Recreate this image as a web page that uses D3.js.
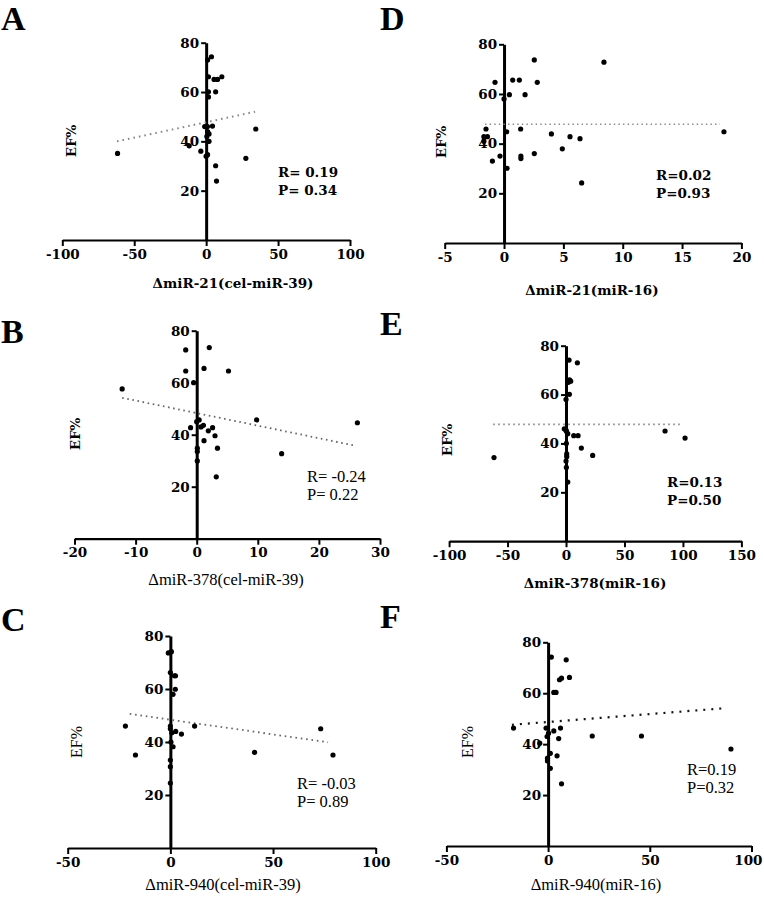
<!DOCTYPE html>
<html>
<head>
<meta charset="utf-8">
<script src="https://cdn.jsdelivr.net/npm/d3@7/dist/d3.min.js"></script>
<style>
  html, body { margin: 0; padding: 0; background: #fff; }
  svg { display: block; }
  text { fill: #000; }
</style>
</head>
<body>
<svg id="chart" width="764" height="899"></svg>
<script>
// ---------------- DATA ----------------
// Panel A: ΔmiR-21 (cel-miR-39) vs EF%
const aX = [3.7, 1, 1.6, 5.5, 7.9, 10.9, 1.6, 6.6, 1.6, -61.6, 4.4, -1, 0.9, 1, 2, 0.5, 1.5, 2, -11.8, -3.7, 1, 34.5, 27.6, 6.6, 7.2, 0];
const aY = [74.3, 73, 66.2, 65.1, 65.1, 66.2, 60.1, 60.1, 58, 35.1, 46.2, 46, 46, 44, 43, 42, 40, 40, 38.2, 36, 34.6, 45, 33.1, 30.1, 23.9, 34];
const aFit = { x: [-62, 34], y: [40, 52] };
const aStats = ["R= 0.19", "P= 0.34"];

// Panel D: ΔmiR-21 (miR-16) vs EF%
const dX = [2.55, 8.42, -0.76, 0.73, 1.29, 2.8, 0.45, 1.77, 0, -1.52, -1.7, -1.4, 0.22, 1.4, 3.99, 5.56, 6.4, 4.91, 2.55, -0.34, 1.42, 1.42, -0.98, 0.25, 6.54, 18.53, -1.7];
const dY = [73.7, 72.8, 64.7, 65.6, 65.6, 64.7, 59.7, 59.7, 58, 45.9, 42.8, 42.8, 44.8, 45.9, 43.9, 42.8, 42, 37.9, 36, 35, 35, 34, 33, 30.1, 24.2, 44.8, 41];
const dFit = { x: [-1.6, 18.2], y: [47.8, 47.8] };
const dStats = ["R=0.02", "P=0.93"];

// Panel B: ΔmiR-378 (cel-miR-39) vs EF%
const bX = [-12.2, -1.8, -1.8, -0.5, 2.06, 1.2, 5.2, 9.8, 26.3, 13.9, -1, 0.4, 0, 0.7, 1.1, 1.9, 2.6, 3, 1.2, 3.4, 0.1, 0.1, 0.1, 3.2];
const bY = [57.6, 72.6, 64.5, 60, 73.5, 65.5, 64.5, 45.7, 44.6, 32.7, 42.7, 45.7, 45, 43, 43.6, 41.5, 42.7, 39.6, 37.7, 34.8, 34.8, 33.5, 29.9, 23.8];
const bFit = { x: [-12.2, 25.9], y: [54.2, 35.8] };
const bStats = ["R= -0.24", "P= 0.22"];

// Panel E: ΔmiR-378 (miR-16) vs EF%
const eX = [-61.6, 2.6, 9.7, 2, 3, 4, 2.9, 0, -1.5, 0, 0.3, 1.5, 6.6, 10.3, 0.3, 13.1, 22.8, 0.6, 0.6, 0, 0.3, 1.5, 84.7, 101.8];
const eY = [34.2, 74.1, 73, 65, 66, 65.5, 60.1, 58, 46, 45.5, 45, 44, 43.2, 43.2, 40, 38.1, 35.1, 35.7, 34.6, 32.8, 30.2, 24.2, 45.1, 42.2];
const eFit = { x: [-62.2, 99], y: [47.8, 47.8] };
const eStats = ["R=0.13", "P=0.50"];

// Panel C: ΔmiR-940 (cel-miR-39) vs EF%
const cX = [-21.9, -17, -1, 0.5, 0, 2, 2.5, 2.4, 1.3, 11.8, 5.4, 2.6, 0, 0, 0.7, 1.3, 0.3, 41, 73.2, 79.2, 0, 0, 0];
const cY = [46, 35.1, 73.6, 74.1, 66.2, 65, 65, 59.9, 58, 46, 43, 44, 46, 45, 43.5, 38.2, 40, 36.1, 45, 35.1, 33.2, 30.7, 24.5];
const cFit = { x: [-19.8, 76.8], y: [50.6, 39.9] };
const cStats = ["R= -0.03", "P= 0.89"];

// Panel F: ΔmiR-940 (miR-16) vs EF%
const fX = [-17, 1.6, 8.9, 5.6, 6.6, 10.5, 2.8, 3.9, 6.1, -1, 2.8, 0.2, -0.5, 5.2, 21.7, 45.9, 89.9, -4.1, 1.1, 4.4, -0.3, -0.3, 1.1, 6.6];
const fY = [46.3, 74.2, 73.1, 65.3, 65.9, 66.2, 60.3, 60.3, 46.3, 46.3, 45.2, 44.3, 43, 42.2, 43.2, 43.2, 38.1, 40.4, 36.4, 35.4, 34.5, 33.4, 30.5, 24.4];
const fFit = { x: [-17.8, 86.6], y: [47.6, 54.1] };
const fStats = ["R=0.19", "P=0.32"];

const yTicks = [20, 40, 60, 80];
const xTicksA = [-100, -50, 0, 50, 100];
const xTicksD = [-5, 0, 5, 10, 15, 20];
const xTicksB = [-20, -10, 0, 10, 20, 30];
const xTicksE = [-100, -50, 0, 50, 100, 150];
const xTicksC = [-50, 0, 50, 100];
const xTicksF = [-50, 0, 50, 100];

const panelLetters = ["A", "D", "B", "E", "C", "F"];
const xTitles = ["ΔmiR-21(cel-miR-39)", "ΔmiR-21(miR-16)", "ΔmiR-378(cel-miR-39)", "ΔmiR-378(miR-16)", "ΔmiR-940(cel-miR-39)", "ΔmiR-940(miR-16)"];
const yTitle = "EF%";

// ---------------- LAYOUT ----------------
const BOLD_FONT = "'DejaVu Serif', 'Liberation Serif', serif";
const REG_FONT = "'Liberation Serif', 'Times New Roman', serif";

const panels = [
  { letter: panelLetters[0], xs: aX, ys: aY, fit: aFit, stats: aStats, xTicks: xTicksA, xDom: [-100, 100], title: xTitles[0],
    xr: [62.3, 350], yr: [240, 42.7], letterPos: [1, 30], titlePos: [233, 288], efPos: [76, 141], statPos: [278, 177], bold: true, dash: "1.6,4", fitColor: "#888", fitW: 2 },
  { letter: panelLetters[1], xs: dX, ys: dY, fit: dFit, stats: dStats, xTicks: xTicksD, xDom: [-5, 20], title: xTitles[1],
    xr: [444.7, 741.4], yr: [243, 44.3], letterPos: [380, 30], titlePos: [592, 295], efPos: [446, 142], statPos: [656, 180], bold: true, dash: "1.4,3.2", fitColor: "#888", fitW: 1.6 },
  { letter: panelLetters[2], xs: bX, ys: bY, fit: bFit, stats: bStats, xTicks: xTicksB, xDom: [-20, 30], title: xTitles[2],
    xr: [74.5, 380], yr: [538.7, 330.7], letterPos: [1, 343], titlePos: [226, 585], efPos: [80, 434], statPos: [307, 482], bold: false, efBold: true, dash: "1.6,3.6", fitColor: "#666", fitW: 1.8 },
  { letter: panelLetters[3], xs: eX, ys: eY, fit: eFit, stats: eStats, xTicks: xTicksE, xDom: [-100, 150], title: xTitles[3],
    xr: [449.1, 741.4], yr: [541.2, 345.7], letterPos: [380, 335], titlePos: [595, 588], efPos: [452, 440], statPos: [667, 487], bold: true, dash: "1.4,3.6", fitColor: "#777", fitW: 1.6 },
  { letter: panelLetters[4], xs: cX, ys: cY, fit: cFit, stats: cStats, xTicks: xTicksC, xDom: [-50, 100], title: xTitles[4],
    xr: [67.7, 375.7], yr: [848, 636], letterPos: [1, 631], titlePos: [223, 890], efPos: [82, 742], statPos: [297, 789], bold: false, efBold: false, dash: "1.6,3.8", fitColor: "#666", fitW: 1.8 },
  { letter: panelLetters[5], xs: fX, ys: fY, fit: fFit, stats: fStats, xTicks: xTicksF, xDom: [-50, 100], title: xTitles[5],
    xr: [446.4, 751.5], yr: [846, 642.3], letterPos: [380, 628], titlePos: [596, 890], efPos: [473, 742], statPos: [687, 775], bold: false, efBold: false, dash: "2,6", fitColor: "#111", fitW: 2.2 }
];

const svg = d3.select("#chart");
const W = 764;

panels.forEach(p => {
  const x = d3.scaleLinear().domain(p.xDom).range(p.xr);
  const y = d3.scaleLinear().domain([0, 80]).range(p.yr);
  const g = svg.append("g");

  // panel letter
  g.append("text").attr("x", p.letterPos[0]).attr("y", p.letterPos[1])
    .attr("font-family", REG_FONT)
    .attr("font-size", 34).attr("font-weight", "bold").text(p.letter);

  // x axis
  const xa = g.append("g").attr("transform", `translate(0,${y(0)})`)
    .call(d3.axisBottom(x).tickValues(p.xTicks).tickSize(6).tickSizeOuter(0).tickPadding(3).tickFormat(d3.format("d")));
  xa.select(".domain").attr("stroke", "#000").attr("stroke-width", 2.2);
  xa.selectAll(".tick line").attr("stroke", "#000").attr("stroke-width", 2);
  xa.selectAll(".tick text").attr("font-size", 13.5).attr("font-weight", "bold")
    .attr("font-family", BOLD_FONT).text(d => d < 0 ? "-" + Math.abs(d) : d);
  // keep labels inside the page
  xa.selectAll(".tick text").each(function(d) {
    const w = this.getComputedTextLength();
    const right = x(d) + w / 2;
    if (right > W - 2) d3.select(this).attr("dx", (W - 2 - right).toFixed(1));
  });

  // y axis at x = 0
  const ya = g.append("g").attr("transform", `translate(${x(0)},0)`)
    .call(d3.axisLeft(y).tickValues(yTicks).tickSize(5).tickSizeOuter(0).tickPadding(2));
  ya.select(".domain").attr("stroke", "#000").attr("stroke-width", 3);
  ya.selectAll(".tick line").attr("stroke", "#000").attr("stroke-width", 2);
  ya.selectAll(".tick text").attr("font-size", 13.5).attr("font-weight", "bold")
    .attr("font-family", BOLD_FONT);

  // trend line (dotted)
  g.append("line")
    .attr("x1", x(p.fit.x[0])).attr("y1", y(p.fit.y[0]))
    .attr("x2", x(p.fit.x[1])).attr("y2", y(p.fit.y[1]))
    .attr("stroke", p.fitColor).attr("stroke-width", p.fitW)
    .attr("stroke-dasharray", p.dash).attr("stroke-linecap", "butt");

  // points
  g.selectAll("circle.pt").data(p.xs.map((v, i) => [v, p.ys[i]])).enter()
    .append("circle").attr("class", "pt")
    .attr("cx", d => x(d[0])).attr("cy", d => y(d[1])).attr("r", 2.6).attr("fill", "#000");

  // y title
  const efBold = p.efBold !== undefined ? p.efBold : p.bold;
  g.append("text")
    .attr("transform", `translate(${p.efPos[0]},${p.efPos[1]}) rotate(-90)`)
    .attr("text-anchor", "middle").attr("font-size", efBold ? 13.5 : 16)
    .attr("font-family", efBold ? BOLD_FONT : REG_FONT)
    .attr("font-weight", efBold ? "bold" : "normal").text(yTitle);

  // x title
  g.append("text").attr("x", p.titlePos[0]).attr("y", p.titlePos[1])
    .attr("text-anchor", "middle").attr("font-size", p.bold ? 13.5 : 16.5)
    .attr("font-family", p.bold ? BOLD_FONT : REG_FONT)
    .attr("font-weight", p.bold ? "bold" : "normal").text(p.title);

  // stats
  p.stats.forEach((s, i) => {
    g.append("text").attr("x", p.statPos[0]).attr("y", p.statPos[1] + i * 18)
      .attr("font-family", p.bold ? BOLD_FONT : REG_FONT)
      .attr("font-size", p.bold ? 13.5 : 16.5).attr("font-weight", p.bold ? "bold" : "normal").text(s);
  });
});
</script>
</body>
</html>
